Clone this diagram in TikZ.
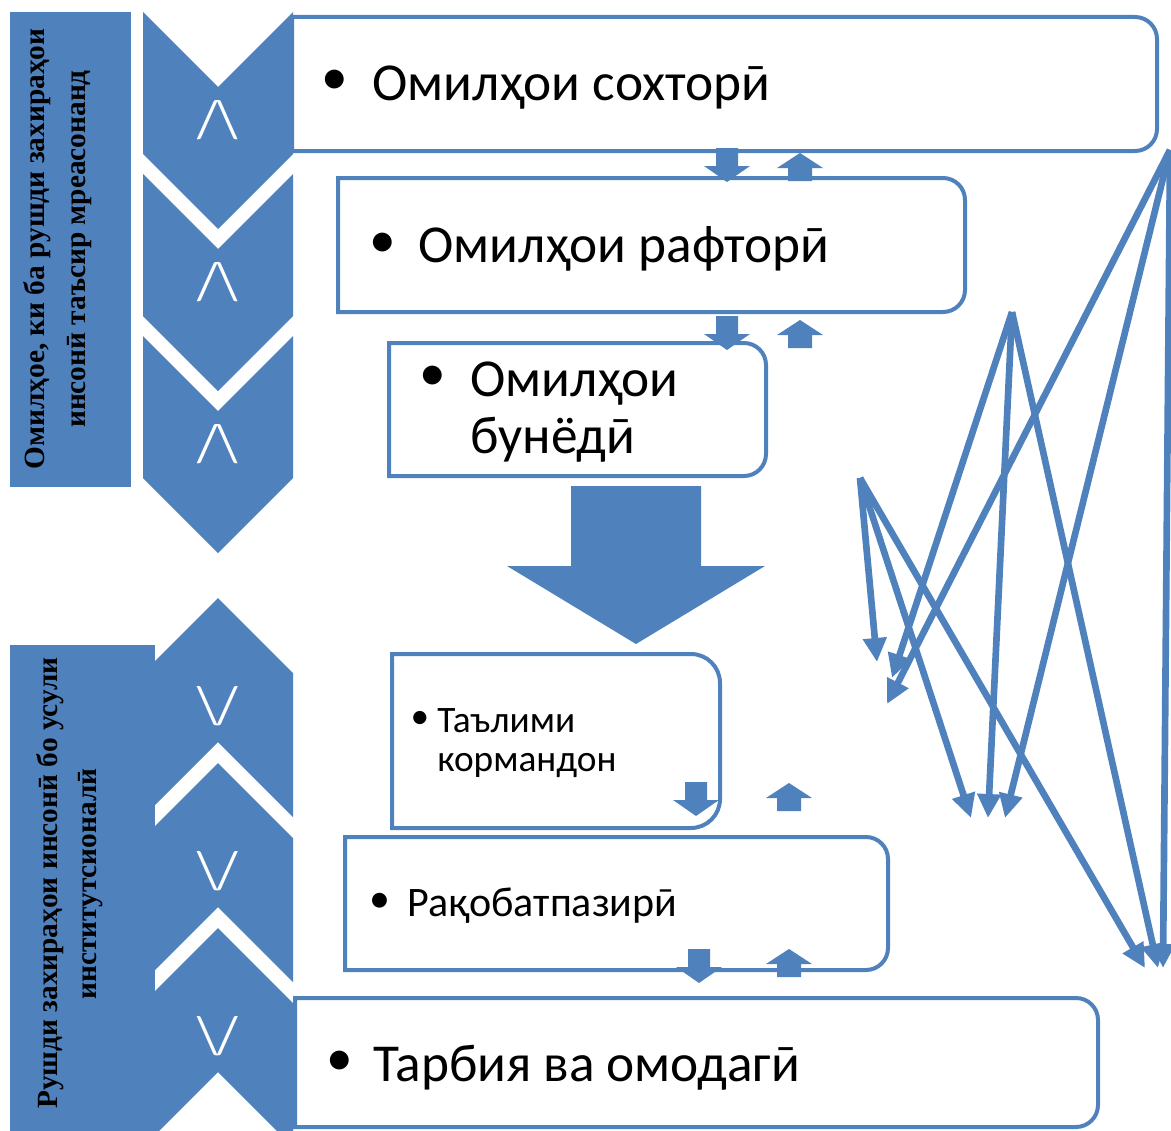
\documentclass[tikz,border=0pt]{standalone}
\usepackage{fontspec}
\setmainfont{Carlito}
\newfontfamily\tnr{Liberation Serif}
\usetikzlibrary{arrows.meta}
\definecolor{acc}{HTML}{4F81BD}
\newcommand\rbox[5]{\filldraw[boxst] (#1,#2) -- ({#3-#5},#2) arc[start angle=90,end angle=0,radius={#5*0.75pt}] -- (#3,{#4-#5}) arc[start angle=0,end angle=-90,radius={#5*0.75pt}] -- (#1,#4) -- cycle;}
\newcommand\dchev[1]{\fill[acc] (143,#1) -- (218,{#1+75}) -- (293,#1) -- (293,{#1+142}) -- (218,{#1+217}) -- (143,{#1+142}) -- cycle;}
\newcommand\uchev[1]{\fill[acc] (218,#1) -- (293,{#1+75}) -- (293,{#1+219}) -- (218,{#1+144}) -- (143,{#1+219}) -- (143,{#1+75}) -- cycle;}
\tikzset{
 dnarr/.pic={\fill[acc] (-11,0) -- (11,0) -- (11,18) -- (23,18) -- (0,34) -- (-23,18) -- (-11,18) -- cycle;},
 uparr/.pic={\fill[acc] (0,0) -- (23,15) -- (12,15) -- (12,28) -- (-12,28) -- (-12,15) -- (-23,15) -- cycle;}
}
\begin{document}
\begin{tikzpicture}[x=0.75pt,y=-0.75pt,
  boxst/.style={draw=acc, line width=3pt, fill=white},
  conn/.style={draw=acc, line width=5pt, -{Triangle[length=18pt,width=17pt]}},
  btxt/.style={font=\fontsize{40}{48}\selectfont, inner sep=0pt, anchor=base west},
  bul/.style={font=\fontsize{40}{48}\selectfont, inner sep=0pt},
  stxt/.style={font=\fontsize{28}{34}\selectfont, inner sep=0pt, anchor=base west},
  sbul/.style={font=\fontsize{28}{34}\selectfont, inner sep=0pt},
  mtxt/.style={font=\fontsize{31.5}{37}\selectfont, inner sep=0pt, anchor=base west},
  mbul/.style={font=\fontsize{31.5}{37}\selectfont, inner sep=0pt},
  lbl/.style={font=\fontsize{40}{48}\selectfont, text=white, inner sep=0pt},
  side/.style={font=\tnr\bfseries\fontsize{22}{27}\selectfont, rotate=90, inner sep=0pt},
  panel/.style={fill=acc}
]
\useasboundingbox (0,0) rectangle (1171,1131);
% side panels
\fill[panel] (10,12) rectangle (131,487);
\fill[panel] (10,645) rectangle (155,1131);
\node[side] (s1) at (37,249) {Омилҳое, ки ба рушди захираҳои};
\node[side] (s2) at (80,249) {инсонӣ таъсир мреасонанд};
\node[side] (s3) at (50,883) {Рушди захираҳои инсонӣ бо усули};
\node[side] (s4) at (91,884) {институтсионалӣ};
% chevrons
\dchev{12}\dchev{174}\dchev{336}
\uchev{598}\uchev{763}\uchev{928}
\node[lbl] (c1) at (218,120) {/\textbackslash};
\node[lbl] (c2) at (218,282) {/\textbackslash};
\node[lbl] (c3) at (218,444) {/\textbackslash};
\node[lbl] (c4) at (218,706) {\textbackslash/};
\node[lbl] (c5) at (218,871) {\textbackslash/};
\node[lbl] (c6) at (218,1036) {\textbackslash/};
% boxes
\rbox{292}{17}{1157}{151}{22}
\rbox{338}{178}{965}{312}{22}
\rbox{389}{343}{766}{476}{22}
\rbox{392}{654}{720}{828}{29}
\rbox{345}{837}{888}{970}{22}
\rbox{295}{998}{1098}{1127}{22}
% texts
\node[bul] (b1) at (335,82) {•};
\node[btxt] (t1) at (372,100) {Омилҳои сохторӣ};
\node[bul] (b2) at (383,245) {•};
\node[btxt] (t2) at (418,262) {Омилҳои рафторӣ};
\node[bul] (b3) at (433,378) {•};
\node[btxt] (t3a) at (470,396) {Омилҳои};
\node[btxt] (t3b) at (470,453) {бунёдӣ};
\node[sbul] (b4) at (420,720) {•};
\node[stxt] (t4a) at (437,732) {Таълими};
\node[stxt] (t4b) at (437,771) {кормандон};
\node[mbul] (b5) at (380,903) {•};
\node[mtxt] (t5) at (407,916) {Рақобатпазирӣ};
\node[bul] (b6) at (340,1063) {•};
\node[btxt] (t6) at (373,1081) {Тарбия ва омодагӣ};
% small block arrows
\pic at (727,148) {dnarr}; \pic at (800,153) {uparr};
\pic at (727,316) {dnarr}; \pic at (800,320) {uparr};
\pic at (696,782) {dnarr}; \pic at (789,783) {uparr};
\pic at (699,949) {dnarr}; \pic at (789,949) {uparr};
% big arrow
\fill[acc] (571,486) -- (701,486) -- (701,566) -- (765,566) -- (636,644) -- (507,566) -- (571,566) -- cycle;
% connectors
\coordinate (A) at (1170,150);
\coordinate (B) at (1012,312);
\coordinate (C) at (860,478);
\coordinate (a1) at (887,704);
\coordinate (a2) at (1005,818);
\coordinate (a3) at (1163,968);
\coordinate (b1e) at (892,678);
\coordinate (b2e) at (988,818);
\coordinate (b3e) at (1158,968);
\coordinate (c1e) at (877,662);
\coordinate (c2e) at (971,818);
\coordinate (c3e) at (1145,968);
\draw[conn] (A) -- (a1);
\draw[conn] (A) -- (a2);
\draw[conn] (A) -- (a3);
\draw[conn] (B) -- (b1e);
\draw[conn] (B) -- (b2e);
\draw[conn] (B) -- (b3e);
\draw[conn] (C) -- (c1e);
\draw[conn] (C) -- (c2e);
\draw[conn] (C) -- (c3e);
\end{tikzpicture}
\end{document}
